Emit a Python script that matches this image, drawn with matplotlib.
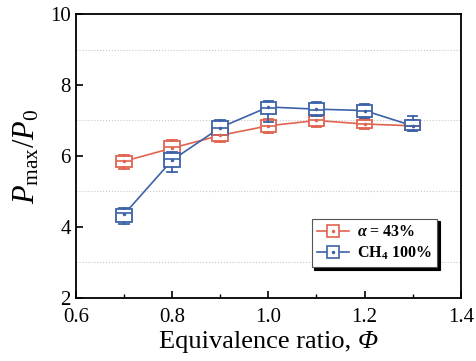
import matplotlib
matplotlib.use("Agg")
import matplotlib.pyplot as plt
from matplotlib.lines import Line2D
from matplotlib.ticker import MultipleLocator

plt.rcParams['font.family'] = ['Liberation Serif', 'DejaVu Serif']
plt.rcParams['mathtext.fontset'] = 'custom'
plt.rcParams['mathtext.rm'] = 'Liberation Serif'
plt.rcParams['mathtext.it'] = 'Liberation Serif:italic'
plt.rcParams['mathtext.bf'] = 'Liberation Serif:bold'
plt.rcParams['mathtext.bfit'] = 'Liberation Serif:bold:italic'

# equivalence ratio
phi = [0.7, 0.8, 0.9, 1.0, 1.1, 1.2, 1.3]

# alpha = 43%
red_lo = [5.62, 6.00, 6.40, 6.65, 6.82, 6.75, 6.70]
red_q1 = [5.68, 6.05, 6.42, 6.68, 6.85, 6.78, 6.72]
red_med = [5.85, 6.25, 6.60, 6.85, 7.00, 6.90, 6.85]
red_q3 = [6.00, 6.42, 6.78, 7.02, 7.12, 7.02, 6.98]
red_hi = [6.02, 6.45, 6.80, 7.04, 7.14, 7.04, 7.00]
red_mean = [5.85, 6.22, 6.58, 6.85, 7.00, 6.90, 6.85]

# CH4 100%
blue_lo = [4.08, 5.55, 6.58, 6.95, 7.12, 7.08, 6.70]
blue_q1 = [4.15, 5.68, 6.60, 7.18, 7.15, 7.10, 6.72]
blue_med = [4.40, 5.90, 6.78, 7.35, 7.30, 7.28, 6.85]
blue_q3 = [4.50, 6.08, 6.98, 7.52, 7.50, 7.45, 7.00]
blue_hi = [4.52, 6.10, 7.00, 7.55, 7.52, 7.46, 7.12]
blue_mean = [4.35, 5.88, 6.80, 7.38, 7.32, 7.28, 6.85]

red = '#E0644F'
blue = '#3C62A8'


def make_stats(lo, q1, med, q3, hi, mean):
    return [dict(whislo=a, q1=b, med=c, q3=d, whishi=e, mean=f, fliers=[])
            for a, b, c, d, e, f in zip(lo, q1, med, q3, hi, mean)]


fig = plt.figure(figsize=(4.77, 3.61), dpi=100)
ax = fig.add_axes([0.159, 0.175, 0.807, 0.786])

for stats, mean, col in [
        (make_stats(red_lo, red_q1, red_med, red_q3, red_hi, red_mean), red_mean, red),
        (make_stats(blue_lo, blue_q1, blue_med, blue_q3, blue_hi, blue_mean), blue_mean, blue)]:
    ax.plot(phi, mean, color=col, lw=1.2, zorder=2)
    ax.bxp(stats, positions=phi, widths=0.032, capwidths=0.02, patch_artist=True,
           showmeans=True, manage_ticks=False,
           boxprops=dict(facecolor='white', edgecolor=col, lw=1.3),
           medianprops=dict(color=col, lw=1.2),
           whiskerprops=dict(color=col, lw=1.3),
           capprops=dict(color=col, lw=1.3),
           meanprops=dict(marker='o', markersize=1.5, markerfacecolor=col,
                          markeredgecolor=col),
           zorder=3)

ax.set_xlim(0.6, 1.4)
ax.set_ylim(2, 10)
ax.xaxis.set_major_locator(MultipleLocator(0.2))
ax.xaxis.set_minor_locator(MultipleLocator(0.1))
ax.yaxis.set_major_locator(MultipleLocator(2))
ax.yaxis.set_minor_locator(MultipleLocator(1))
ax.xaxis.set_major_formatter(plt.FormatStrFormatter('%.1f'))
ax.tick_params(which='both', direction='in', top=False, right=False, labelsize=15)
ax.tick_params(which='major', length=5, width=1.2)
ax.tick_params(which='minor', length=3, width=1)
ax.xaxis.set_tick_params(which='major', pad=7)
ax.yaxis.set_tick_params(which='minor', length=0)
ax.grid(which='minor', axis='y', ls=':', color='#c8c8c8', lw=0.8)
for s in ax.spines.values():
    s.set_linewidth(1.3)

# x label: italic Phi appended after the upright text
ax.set_xlabel('Equivalence ratio, ', fontsize=19)
ax.xaxis.set_label_coords(0.475, -0.118)
ax.xaxis.label.set_va('top')
ax.annotate('Φ', xy=(1, 0), xycoords=ax.xaxis.label, va='bottom', ha='left',
            fontsize=19, fontstyle='italic')
ax.set_ylabel(r'$P_{\mathrm{max}}/P_0$', fontsize=22, labelpad=6)

h_red = (Line2D([], [], color=red, lw=1.2, marker='s', markersize=8,
                markerfacecolor='white', markeredgewidth=1.2),
         Line2D([], [], color=red, ls='', marker='o', markersize=1.5))
h_blue = (Line2D([], [], color=blue, lw=1.2, marker='s', markersize=8,
                 markerfacecolor='white', markeredgewidth=1.2),
          Line2D([], [], color=blue, ls='', marker='o', markersize=1.5))
leg = ax.legend([h_red, h_blue], [r'$\mathbfit{α}$ = 43%', r'CH$_\mathbf{4}$ 100%'],
                loc='lower right', bbox_to_anchor=(0.96, 0.08),
                prop=dict(weight='bold', size=11.5), fancybox=False,
                framealpha=1, edgecolor='#555555', handlelength=2.0,
                handletextpad=0.5, borderpad=0.35, labelspacing=0.25,
                shadow=dict(color='black', alpha=1))
leg.get_frame().set_linewidth(0.8)

fig.savefig('out.png', dpi=100)
